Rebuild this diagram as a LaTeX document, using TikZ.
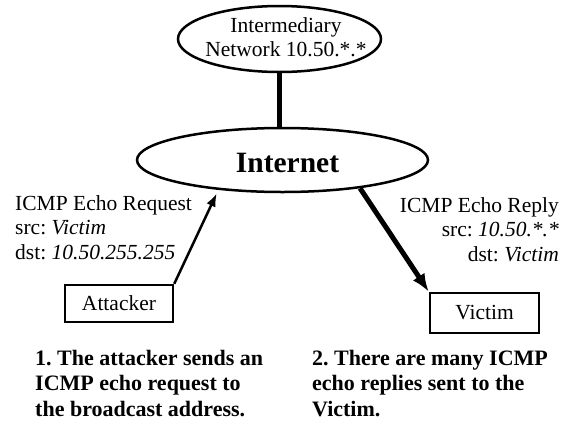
\documentclass[tikz,border=0pt]{standalone}
\usepackage{fontspec}
\setmainfont{Liberation Serif}
\usetikzlibrary{arrows.meta,shapes.geometric}
\frenchspacing

\begin{document}
\begin{tikzpicture}[x=1pt,y=-1pt,
	netellipse/.style={shape=ellipse,draw=black,line width=2.5pt,inner sep=0pt},
	hostbox/.style={shape=rectangle,draw=black,line width=2.5pt,inner sep=0pt,font=\fontsize{21.5}{24.5}\selectfont},
	lbl/.style={inner sep=0pt,font=\fontsize{21.5}{24.5}\selectfont},
	caption/.style={inner sep=0pt,align=left,font=\fontsize{22}{25.5}\selectfont\bfseries}]
	
	\useasboundingbox (0,0) rectangle (565,421);
	
	\node[netellipse, minimum width=203pt, minimum height=66pt] (net) at (279.5, 39) {};
	\node[lbl, align=center] (nettext) at (286, 37) {Intermediary\\Network 10.50.*.*};
	\node[netellipse, minimum width=291pt, minimum height=64pt] (internet) at (282.5, 160) {};
	\node[inner sep=0pt, font=\fontsize{29.5}{32}\selectfont\bfseries] (internettext) at (287.5, 163) {Internet};
	
	\node[hostbox, minimum width=108pt, minimum height=37pt] (attacker) at (119, 303.5) {Attacker};
	\node[hostbox, minimum width=109pt, minimum height=40pt] (victim) at (484.5, 313) {Victim};
	
	\draw[line width=5pt] (net.south) -- (net.south |- internet.north);
	\draw[line width=2.5pt, -{Latex[length=13pt,width=10pt]}, shorten >=4pt] (attacker.north east) -- (internet.205);
	\draw[line width=5pt, -{Latex[length=18pt,width=14pt]}] (internet.-20) -- (victim.north west);
	
	\node[lbl, align=left, anchor=north west] (reqlabel) at (15, 195.3) {ICMP Echo Request\\src: \textit{Victim}\\dst: \textit{10.50.255.255}};
	\node[lbl, align=right, anchor=north east] (replabel) at (559, 197.3) {ICMP Echo Reply\\src: \textit{10.50.*.*}\\dst: \textit{Victim}};
	
	\node[caption, anchor=north west] (step1) at (35, 350) {1. The attacker sends an\\ICMP echo request to\\the broadcast address.};
	\node[caption, anchor=north west] (step2) at (312, 350) {2. There are many ICMP\\echo replies sent to the\\Victim.};
	
\end{tikzpicture}
\end{document}
